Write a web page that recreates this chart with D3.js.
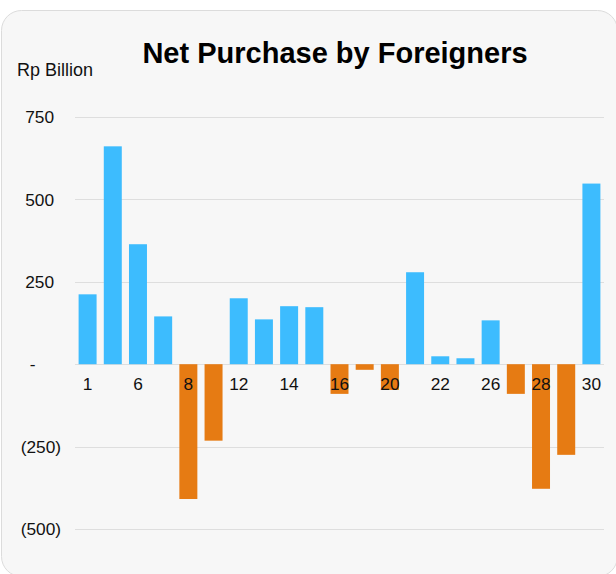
<!DOCTYPE html>
<html>
<head>
<meta charset="utf-8">
<script src="https://cdn.jsdelivr.net/npm/d3@7"></script>
<style>
  html, body { margin: 0; padding: 0; background: #ffffff; }
  svg { display: block; }
  text { font-family: "Liberation Sans", Arial, Helvetica, sans-serif; }
</style>
</head>
<body>
<svg id="chart" width="616" height="574"></svg>
<script>
// ---- data ----
const days = ["1","5","6","7","8","9","12","13","14","15","16","19","20","21","22","23","26","27","28","29","30"];
const netPurchase = [212, 661, 364, 145, -409, -232, 200, 136, 176, 173, -90, -17, -78, 279, 24, 18, 133, -90, -378, -275, 548];
const xTickLabels = ["1","6","8","12","14","16","20","22","26","28","30"];
const yTicks = [-500, -250, 0, 250, 500, 750];
const title = "Net Purchase by Foreigners";
const unitLabel = "Rp Billion";

const svg = d3.select("#chart");

// card background
svg.append("rect")
  .attr("x", 1.5).attr("y", 10.5)
  .attr("width", 616).attr("height", 566)
  .attr("rx", 20).attr("ry", 20)
  .attr("fill", "#f7f7f7")
  .attr("stroke", "#dcdcdc")
  .attr("stroke-width", 1);

const x = d3.scaleBand()
  .domain(days)
  .range([75, 604])
  .paddingInner(0.286)
  .paddingOuter(0.143);

const y = d3.scaleLinear()
  .domain([-500, 750])
  .range([529, 117]);

// gridlines
svg.append("g")
  .selectAll("line")
  .data(yTicks)
  .join("line")
  .attr("x1", 75).attr("x2", 604)
  .attr("y1", d => Math.round(y(d)) + 0.5)
  .attr("y2", d => Math.round(y(d)) + 0.5)
  .attr("stroke", "#dedede")
  .attr("stroke-width", 1);

// bars
svg.append("g")
  .selectAll("rect")
  .data(days.map((d, i) => ({ day: d, v: netPurchase[i] })))
  .join("rect")
  .attr("x", d => x(d.day))
  .attr("width", x.bandwidth())
  .attr("y", d => y(Math.max(0, d.v)))
  .attr("height", d => Math.abs(y(d.v) - y(0)))
  .attr("fill", d => d.v >= 0 ? "#3dbcfe" : "#e67b13");

// y axis (accounting style labels)
const fmt = d => d === 0 ? "-" : (d < 0 ? "(" + Math.abs(d) + ")" : String(d));
const yAxis = svg.append("g")
  .attr("transform", "translate(61,0)")
  .call(d3.axisLeft(y).tickValues(yTicks).tickSize(0).tickPadding(0).tickFormat(fmt));
yAxis.select(".domain").remove();
yAxis.selectAll(".tick text")
  .attr("font-size", 17.3)
  .attr("font-family", "\"Liberation Sans\", Arial, sans-serif")
  .attr("fill", "#111")
  .attr("dy", "0.33em")
  .each(function(d) {
    const t = d3.select(this);
    if (d > 0) t.attr("x", -7).attr("text-anchor", "end");
    else if (d < 0) t.attr("x", 0).attr("text-anchor", "end");
    else t.attr("x", -28.5).attr("text-anchor", "middle");
  });

// x axis labels (every other day)
const xAxis = svg.append("g")
  .attr("transform", `translate(0,${y(0)})`)
  .call(d3.axisBottom(x).tickValues(xTickLabels).tickSize(0).tickPadding(0));
xAxis.select(".domain").remove();
xAxis.selectAll(".tick text")
  .attr("font-size", 17.3)
  .attr("font-family", "\"Liberation Sans\", Arial, sans-serif")
  .attr("fill", "#111")
  .attr("dy", null)
  .attr("y", 26);

// title and unit
svg.append("text")
  .attr("x", 335).attr("y", 63)
  .attr("text-anchor", "middle")
  .attr("font-size", 29)
  .attr("font-weight", "bold")
  .attr("fill", "#000")
  .text(title);

svg.append("text")
  .attr("x", 17).attr("y", 76)
  .attr("font-size", 18)
  .attr("fill", "#111")
  .text(unitLabel);
</script>
</body>
</html>
